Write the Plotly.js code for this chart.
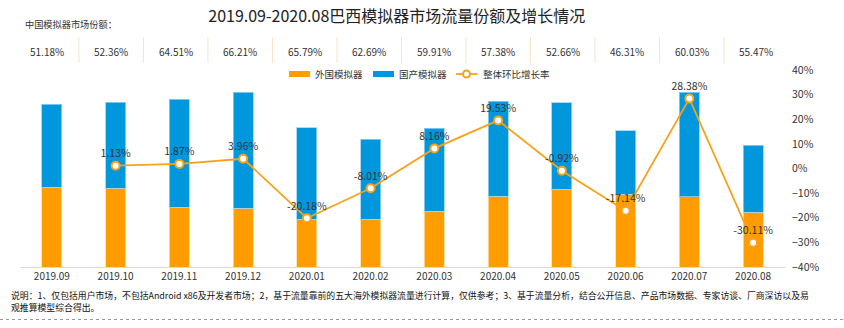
<!DOCTYPE html>
<html>
<head>
<meta charset="utf-8">
<script src="https://cdn.plot.ly/plotly-3.0.1.min.js"></script>
<style>html,body{margin:0;padding:0;background:#fff;}#chart{width:844px;height:328px;}</style>
</head>
<body>
<div id="chart"></div>
<script>
var months = ['2019.09','2019.10','2019.11','2019.12','2020.01','2020.02','2020.03','2020.04','2020.05','2020.06','2020.07','2020.08'];
var foreign = [79.7, 78.7, 59.7, 59.0, 47.7, 47.7, 56.0, 71.0, 77.7, 73.0, 70.3, 54.7];
var domestic = [83.3, 86.0, 108.0, 115.7, 91.6, 80.3, 82.7, 94.7, 86.6, 63.3, 104.4, 67.3];
var growth = [null, 1.13, 1.87, 3.96, -20.18, -8.01, 8.16, 19.53, -0.92, -17.14, 28.38, -30.11];
var chinaShare = ['51.18%','52.36%','64.51%','66.21%','65.79%','62.69%','59.91%','57.38%','52.66%','46.31%','60.03%','55.47%'];
var seriesNames = ['外国模拟器','国产模拟器','整体环比增长率'];
var titleText = '2019.09-2020.08巴西模拟器市场流量份额及增长情况';
var subTitle = '中国模拟器市场份额：';
var note1 = '说明：1、仅包括用户市场，不包括Android x86及开发者市场；2，基于流量靠前的五大海外模拟器流量进行计算，仅供参考；3、基于流量分析，结合公开信息、产品市场数据、专家访谈、厂商深访以及易';
var note2 = '观推算模型综合得出。';

var FONT = '"Noto Sans CJK SC", "Noto Sans", sans-serif';
var ORANGE = '#FF9D00', BLUE = '#0097DD', LINE = '#F7A21B';

// pixel helpers for layout decorations (plot area: x 20..785, y 70..267)
function px(x){ return (x - 20) / 765; }
function py(y){ return (267 - y) / 197; }

var traces = [
  {type:'bar', x:months, y:foreign, name:seriesNames[0], marker:{color:ORANGE, line:{color:'rgba(255,220,160,0.8)', width:1}}, yaxis:'y', xaxis:'x', showlegend:false, hoverinfo:'skip'},
  {type:'bar', x:months, y:domestic, name:seriesNames[1], marker:{color:BLUE, line:{color:'rgba(150,210,240,0.8)', width:1}}, yaxis:'y', xaxis:'x', showlegend:false, hoverinfo:'skip'},
  {type:'scatter', mode:'lines+markers+text', x:months, y:growth, name:seriesNames[2], yaxis:'y2', xaxis:'x',
   line:{color:LINE, width:1.8}, marker:{size:8, color:'#fff', line:{color:LINE, width:2}},
   texttemplate:'%{y:.2f}%', textposition:'top center', textfont:{family:FONT, size:10.5, color:'#333'},
   connectgaps:false, showlegend:false, hoverinfo:'skip'}
];

var annotations = [];
var shapes = [];

annotations.push({xref:'paper', yref:'paper', x:px(23), y:py(24), xanchor:'left', yanchor:'middle', text:subTitle, showarrow:false, font:{family:FONT, size:9.2, color:'#333'}});
for (var i = 0; i < chinaShare.length; i++) {
  annotations.push({xref:'x2', yref:'paper', x:i, y:py(51), xanchor:'center', yanchor:'middle', text:chinaShare[i], showarrow:false, font:{family:FONT, size:10, color:'#333'}});
  if (i < chinaShare.length - 1) {
    shapes.push({type:'line', xref:'x2', yref:'paper', x0:i+0.5, x1:i+0.5, y0:py(63), y1:py(37), line:{color:'#FDE3C4', width:1}});
  }
}

// custom legend
shapes.push({type:'rect', xref:'paper', yref:'paper', x0:px(289), x1:px(310), y0:py(77), y1:py(71), fillcolor:ORANGE, line:{width:0}});
shapes.push({type:'rect', xref:'paper', yref:'paper', x0:px(373), x1:px(394), y0:py(77), y1:py(71), fillcolor:BLUE, line:{width:0}});
shapes.push({type:'line', xref:'paper', yref:'paper', x0:px(456), x1:px(477), y0:py(74), y1:py(74), line:{color:LINE, width:1.8}});
shapes.push({type:'circle', xref:'paper', yref:'paper', x0:px(463), x1:px(470), y0:py(77.5), y1:py(70.5), fillcolor:'#fff', line:{color:LINE, width:2}});
annotations.push({xref:'paper', yref:'paper', x:px(313), y:py(74), xanchor:'left', yanchor:'middle', text:seriesNames[0], showarrow:false, font:{family:FONT, size:9.5, color:'#333'}});
annotations.push({xref:'paper', yref:'paper', x:px(397), y:py(74), xanchor:'left', yanchor:'middle', text:seriesNames[1], showarrow:false, font:{family:FONT, size:9.5, color:'#333'}});
annotations.push({xref:'paper', yref:'paper', x:px(481), y:py(74), xanchor:'left', yanchor:'middle', text:seriesNames[2], showarrow:false, font:{family:FONT, size:9.5, color:'#333'}});

// footnote
annotations.push({xref:'paper', yref:'paper', x:px(9), y:py(295.5), xanchor:'left', yanchor:'middle', text:note1, showarrow:false, font:{family:FONT, size:8.85, color:'#111'}});
annotations.push({xref:'paper', yref:'paper', x:px(9), y:py(307), xanchor:'left', yanchor:'middle', text:note2, showarrow:false, font:{family:FONT, size:8.85, color:'#111'}});
shapes.push({type:'line', xref:'paper', yref:'paper', x0:px(0), x1:px(844), y0:py(319.5), y1:py(319.5), line:{color:'#999', width:1, dash:'dot'}});

var layout = {
  width:844, height:328,
  margin:{l:20, r:59, t:70, b:61, pad:0},
  paper_bgcolor:'#fff', plot_bgcolor:'rgba(0,0,0,0)',
  font:{family:FONT, color:'#333'},
  title:{text:titleText, font:{family:FONT, size:16, color:'#222'}, x:0.4925, xanchor:'center', xref:'paper', y:1-16/328, yref:'container', yanchor:'middle'},
  barmode:'stack', bargap:0.686,
  showlegend:false,
  xaxis:{type:'category', range:[-0.5, 11.5], showline:true, linecolor:'#d9d9d9', linewidth:1, ticks:'', showgrid:false, zeroline:false, tickfont:{family:FONT, size:10, color:'#333'}, fixedrange:true},
  xaxis2:{overlaying:'x', range:[-0.414, 11.446], visible:false, anchor:'y', fixedrange:true},
  yaxis:{range:[0, 197], visible:false, showgrid:false, zeroline:false, fixedrange:true},
  yaxis2:{overlaying:'y', side:'right', range:[-40, 40], dtick:10, ticksuffix:'%', showgrid:false, zeroline:false, showline:false, ticks:'', tickfont:{family:FONT, size:10.5, color:'#333'}, ticklabelstandoff:6, fixedrange:true},
  annotations:annotations,
  shapes:shapes
};

Plotly.newPlot('chart', traces, layout, {staticPlot:true, displayModeBar:false});
</script>
</body>
</html>
